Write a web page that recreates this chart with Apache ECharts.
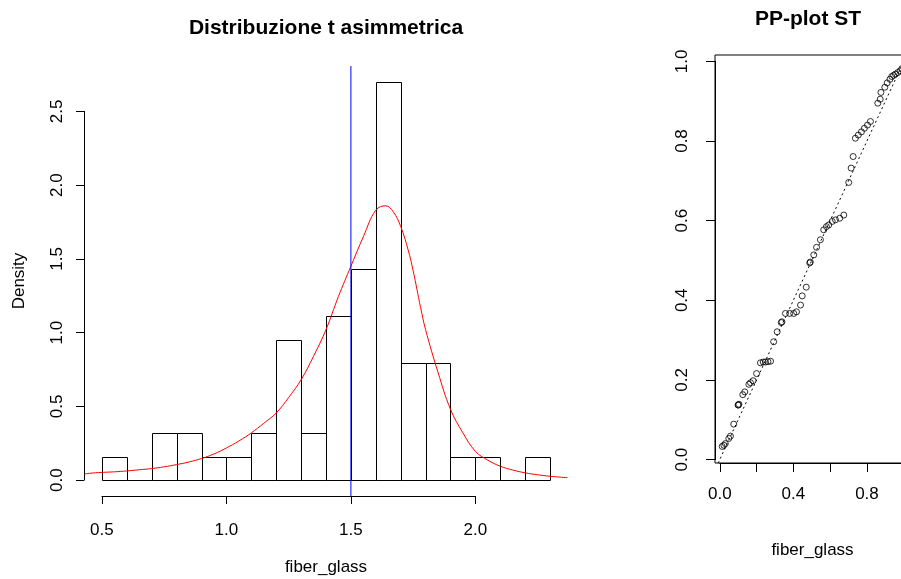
<!DOCTYPE html>
<html>
<head>
<meta charset="utf-8">
<script src="https://cdn.jsdelivr.net/npm/echarts@6/dist/echarts.min.js"></script>
<style>
html,body{margin:0;padding:0;background:#fff;}
#c{width:901px;height:579px;}
</style>
</head>
<body>
<div id="c"></div>
<script>
// ---------- data ----------
const binLeft  = [0.5,0.6,0.7,0.8,0.9,1.0,1.1,1.2,1.3,1.4,1.5,1.6,1.7,1.8,1.9,2.0,2.1,2.2];
const binRight = [0.6,0.7,0.8,0.9,1.0,1.1,1.2,1.3,1.4,1.5,1.6,1.7,1.8,1.9,2.0,2.1,2.2,2.3];
const density  = [0.159,0,0.317,0.317,0.159,0.159,0.317,0.952,0.317,1.111,1.429,2.698,0.794,0.794,0.159,0.159,0,0.159];

const curveX = [0.43,0.45,0.5,0.55,0.6,0.65,0.7,0.75,0.8,0.85,0.9,0.95,1.0,1.05,1.1,1.15,1.2,1.25,1.3,1.35,1.4,1.45,1.5,1.55,1.6,1.64,1.67,1.7,1.73,1.75,1.78,1.8,1.85,1.9,1.95,2.0,2.05,2.1,2.15,2.2,2.25,2.3,2.37];
const curveY = [0.040,0.046,0.052,0.056,0.062,0.070,0.078,0.090,0.105,0.123,0.146,0.177,0.218,0.265,0.320,0.385,0.455,0.560,0.680,0.840,1.020,1.245,1.450,1.650,1.830,1.860,1.820,1.720,1.560,1.420,1.170,1.020,0.730,0.480,0.320,0.195,0.135,0.094,0.068,0.049,0.036,0.026,0.016];

const vlineX = [1.5];

const ppX = [0.013,0.022,0.030,0.049,0.058,0.076,0.100,0.100,0.104,0.125,0.136,0.158,0.167,0.181,0.200,0.221,0.236,0.248,0.262,0.276,0.293,0.312,0.334,0.338,0.357,0.380,0.402,0.417,0.439,0.448,0.470,0.489,0.492,0.511,0.526,0.547,0.565,0.580,0.592,0.611,0.629,0.652,0.674,0.701,0.714,0.725,0.737,0.753,0.770,0.786,0.803,0.819,0.859,0.872,0.876,0.897,0.910,0.925,0.935,0.945,0.955,0.968,0.980,0.990];
const ppY = [0.033,0.036,0.040,0.053,0.059,0.089,0.137,0.137,0.139,0.163,0.170,0.189,0.193,0.198,0.216,0.243,0.245,0.245,0.246,0.247,0.296,0.321,0.344,0.346,0.367,0.367,0.367,0.371,0.388,0.411,0.433,0.494,0.496,0.514,0.533,0.552,0.577,0.585,0.589,0.598,0.602,0.606,0.614,0.696,0.732,0.761,0.807,0.815,0.823,0.832,0.840,0.849,0.895,0.905,0.922,0.935,0.946,0.955,0.962,0.965,0.968,0.972,0.976,0.982];
const refLineX = [-0.1,1.1];
const refLineY = [-0.1,1.1];

// ---------- layout ----------
const FONT = 'Liberation Sans, Arial, sans-serif';
const L1 = {l:84, r:568, t:66, b:496, x:[0.428,2.372], y:[-0.108,2.808]};
const L2 = {l:715, r:910, t:55, b:463, x:[-0.026,1.034], y:[-0.0086,1.016]};
function px(L, v){ return L.l + (v - L.x[0])/(L.x[1]-L.x[0])*(L.r-L.l); }
function py(L, v){ return L.b - (v - L.y[0])/(L.y[1]-L.y[0])*(L.b-L.t); }

const grids = [
  {left:L1.l, top:L1.t, width:L1.r-L1.l, height:L1.b-L1.t},
  {left:px(L1,0.5), top:L1.t, width:px(L1,2.0)-px(L1,0.5), height:L1.b-L1.t},
  {left:L1.l, top:py(L1,2.5), width:L1.r-L1.l, height:py(L1,0)-py(L1,2.5)},
  {left:L2.l, top:L2.t, width:L2.r-L2.l, height:L2.b-L2.t, show:true, borderColor:'#000', borderWidth:1, backgroundColor:'transparent'},
  {left:px(L2,0), top:L2.t, width:px(L2,1)-px(L2,0), height:L2.b-L2.t},
  {left:L2.l, top:py(L2,1), width:L2.r-L2.l, height:py(L2,0)-py(L2,1)}
].map(g => Object.assign({containLabel:false, outerBoundsMode:'none'}, g));

const lblStyle = {color:'#000', fontSize:17, fontFamily:FONT};
const hidden = (gi) => ({gridIndex:gi, type:'value', min:0, max:1, show:false});
const fmt = v => v.toFixed(1);
const near = (a,b) => Math.abs(a-b) < 1e-6;

const xAxes = [
  {gridIndex:0, type:'value', min:L1.x[0], max:L1.x[1], axisLine:{show:false}, axisTick:{show:false}, axisLabel:{show:false}, splitLine:{show:false},
   name:'fiber_glass', nameLocation:'middle', nameGap:63, nameTextStyle:lblStyle},
  {gridIndex:1, type:'value', min:0.5, max:2.0, interval:0.5, splitLine:{show:false},
   axisLine:{show:true, lineStyle:{color:'#000', width:1}}, axisTick:{show:true, length:8, lineStyle:{color:'#000'}},
   axisLabel:Object.assign({margin:26, formatter:fmt}, lblStyle)},
  hidden(2),
  {gridIndex:3, type:'value', min:L2.x[0], max:L2.x[1], axisLine:{show:false}, axisTick:{show:false}, axisLabel:{show:false}, splitLine:{show:false},
   name:'fiber_glass', nameLocation:'middle', nameGap:79, nameTextStyle:lblStyle},
  {gridIndex:4, type:'value', min:0, max:1, interval:0.2, splitLine:{show:false},
   axisLine:{show:true, lineStyle:{color:'#000', width:1}}, axisTick:{show:true, length:9, lineStyle:{color:'#000'}},
   axisLabel:Object.assign({margin:23, formatter:v => (near(v,0)||near(v,0.4)||near(v,0.8))?fmt(v):''}, lblStyle)},
  hidden(5)
];
const yAxes = [
  {gridIndex:0, type:'value', min:L1.y[0], max:L1.y[1], axisLine:{show:false}, axisTick:{show:false}, axisLabel:{show:false}, splitLine:{show:false},
   name:'Density', nameLocation:'middle', nameGap:56, nameTextStyle:lblStyle},
  hidden(1),
  {gridIndex:2, type:'value', min:0, max:2.5, interval:0.5, splitLine:{show:false},
   axisLine:{show:true, lineStyle:{color:'#000', width:1}}, axisTick:{show:true, length:8, lineStyle:{color:'#000'}},
   axisLabel:Object.assign({margin:18, rotate:90, formatter:fmt}, lblStyle)},
  {gridIndex:3, type:'value', min:L2.y[0], max:L2.y[1], show:false},
  hidden(4),
  {gridIndex:5, type:'value', min:0, max:1, interval:0.2, splitLine:{show:false},
   axisLine:{show:true, lineStyle:{color:'#000', width:1}}, axisTick:{show:true, length:9, lineStyle:{color:'#000'}},
   axisLabel:Object.assign({margin:24, rotate:90, formatter:fmt}, lblStyle)}
];

const histData = binLeft.map((b,i) => [b, binRight[i], density[i]]);
const curveData = curveX.map((x,i) => [x, curveY[i]]);
const vlineData = vlineX.map(v => [[v, L1.y[0]], [v, L1.y[1]]]);
const ppData = ppX.map((x,i) => [x, ppY[i]]);
const refData = refLineX.map((x,i) => [x, refLineY[i]]);

const option = {
  animation:false,
  backgroundColor:'#fff',
  grid:grids,
  xAxis:xAxes,
  yAxis:yAxes,
  graphic:[
    {type:'text', x:326, y:28, style:{text:'Distribuzione t asimmetrica', font:'bold 21px '+FONT, fill:'#000', align:'center', verticalAlign:'middle'}},
    {type:'text', x:808, y:19, style:{text:'PP-plot ST', font:'bold 21px '+FONT, fill:'#000', align:'center', verticalAlign:'middle'}}
  ],
  series:[
    {type:'custom', xAxisIndex:0, yAxisIndex:0, data:histData, clip:false,
     renderItem:function(params, api){
       const p0 = api.coord([api.value(0), 0]);
       const p1 = api.coord([api.value(1), api.value(2)]);
       const x0 = Math.round(p0[0])+0.5, x1 = Math.round(p1[0])+0.5;
       const yb = Math.round(p0[1])+0.5, yt = Math.round(p1[1])+0.5;
       return {type:'rect', shape:{x:x0, y:yt, width:x1-x0, height:yb-yt},
               style:{fill:'rgba(0,0,0,0)', stroke:'#000', lineWidth:1}};
     }},
    {type:'line', xAxisIndex:0, yAxisIndex:0, data:curveData, smooth:0.4, showSymbol:false, symbol:'none',
     lineStyle:{color:'#ff0000', width:1}},
    ...vlineData.map(d => ({type:'line', xAxisIndex:0, yAxisIndex:0, data:d, showSymbol:false, symbol:'none',
     lineStyle:{color:'#0000ff', width:1}, z:5})),
    {type:'line', xAxisIndex:3, yAxisIndex:3, data:refData, showSymbol:false, symbol:'none', clip:true,
     lineStyle:{color:'#000', width:1, type:[2,3]}},
    {type:'scatter', xAxisIndex:3, yAxisIndex:3, data:ppData, symbol:'circle', symbolSize:6,
     itemStyle:{color:'rgba(0,0,0,0)', borderColor:'#000', borderWidth:1}}
  ]
};
const chart = echarts.init(document.getElementById('c'), null, {renderer:'canvas'});
chart.setOption(option);
</script>
</body>
</html>
